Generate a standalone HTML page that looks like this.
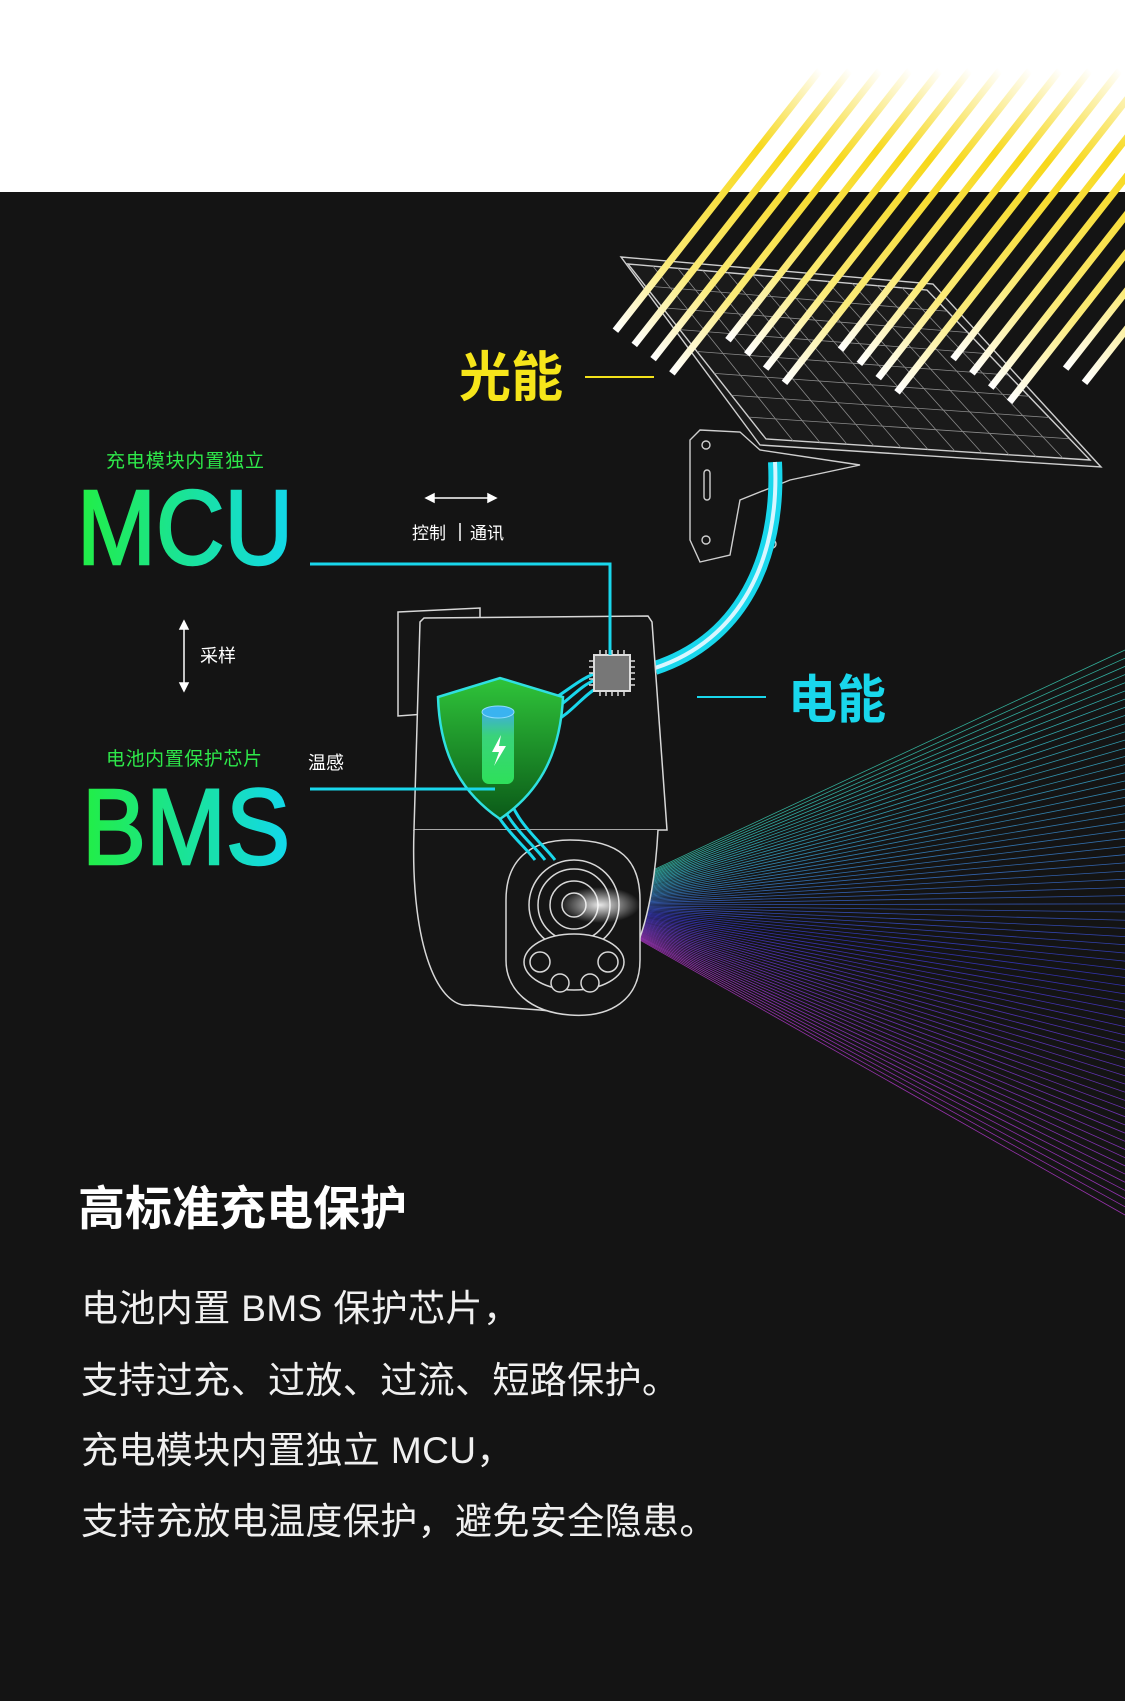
<!DOCTYPE html>
<html><head><meta charset="utf-8">
<style>
html,body{margin:0;padding:0;background:#141414;}
body{width:1125px;height:1701px;position:relative;overflow:hidden;font-family:"Liberation Sans","Noto Sans CJK SC",sans-serif;}
.top{position:absolute;left:0;top:0;width:1125px;height:192px;background:#fff;}
svg{position:absolute;left:0;top:0;}
.t{position:absolute;color:#f0f0f0;font-family:"Liberation Sans","Noto Sans CJK SC",sans-serif;white-space:nowrap;}
.p{font-size:37px;line-height:37px;letter-spacing:0.4px;}
</style></head><body>
<div class="top"></div>
<svg id="s" width="1125" height="1701" viewBox="0 0 1125 1701" xmlns="http://www.w3.org/2000/svg">
<defs>
<linearGradient id="gc" x1="0" y1="0" x2="1" y2="0"><stop offset="0" stop-color="#22ee44"/><stop offset="1" stop-color="#12d8ec"/></linearGradient>
<linearGradient id="ray" x1="1" y1="0" x2="0" y2="1"><stop offset="0" stop-color="#f5d400" stop-opacity="0"/><stop offset="0.3" stop-color="#f7d81a"/><stop offset="0.75" stop-color="#fbeb7a"/><stop offset="1" stop-color="#ffffff"/></linearGradient>
<radialGradient id="glow" cx="0.5" cy="0.5" r="0.5"><stop offset="0" stop-color="#fff" stop-opacity="0.9"/><stop offset="1" stop-color="#fff" stop-opacity="0"/></radialGradient>
<linearGradient id="sh" x1="0" y1="0" x2="0" y2="1"><stop offset="0" stop-color="#2fc43a"/><stop offset="1" stop-color="#0b5a18"/></linearGradient>
<linearGradient id="bat" x1="0" y1="0" x2="0" y2="1"><stop offset="0" stop-color="#3fa8e8"/><stop offset="0.35" stop-color="#3ad37a"/><stop offset="1" stop-color="#2ee05a"/></linearGradient>
</defs>
<g id="fan"></g>
<g stroke="#cfcfcf" fill="none" stroke-width="1.4">
<polygon points="621,257 933,284 1101,467 760,445" fill="#1a1a1a"/>
<polygon points="628,264 927,290 1090,460 766,439"/>
<g id="grid" stroke="#8a8a8a" stroke-width="0.8"></g>
<path d="M700,430 L740,432 L760,450 L860,465 L790,480 L740,500 L730,555 L700,562 L690,540 L690,440 Z" fill="#151515"/>
<circle cx="706" cy="445" r="4"/><circle cx="706" cy="540" r="4"/><circle cx="772" cy="544" r="4"/>
<rect x="704" y="470" width="6" height="30" rx="3"/>
</g>
<path d="M775,462 C780,560 740,640 655,668" stroke="#19d7ec" stroke-width="14" fill="none"/>
<path d="M775,462 C780,560 740,640 655,668" stroke="#d8f6ff" stroke-width="4" fill="none"/>
<g id="rays"></g>
<g stroke="#d8d8d8" stroke-width="1.5" fill="#151515">
<path d="M398,612 L480,608 L480,710 L398,716 Z"/>
<path d="M424,618 L648,616 L652,622 L667,830 L414,830 L420,622 Z"/>
<path d="M414,830 C410,950 440,1010 470,1005 L540,1010 C600,1018 650,980 658,830"/>
<path d="M506,900 C506,860 530,840 570,840 C620,840 640,860 640,900 L640,960 C640,1000 610,1018 570,1015 C530,1012 506,990 506,960 Z"/>
<circle cx="574" cy="905" r="45"/><circle cx="574" cy="905" r="36"/><circle cx="574" cy="905" r="24"/><circle cx="574" cy="905" r="12"/>
<ellipse cx="574" cy="962" rx="50" ry="28"/>
<circle cx="540" cy="962" r="10"/><circle cx="608" cy="962" r="10"/><circle cx="560" cy="983" r="9"/><circle cx="590" cy="983" r="9"/>
</g>
<ellipse cx="600" cy="905" rx="40" ry="18" fill="url(#glow)"/>
<g stroke="#19d7ec" stroke-width="3" fill="none">
<path d="M595,680 C570,690 560,720 500,730"/><path d="M597,688 C575,700 565,730 500,742"/><path d="M600,672 C570,680 555,710 500,720"/>
<path d="M495,780 C500,820 530,840 545,860"/><path d="M505,780 C510,820 540,840 555,860"/><path d="M485,780 C490,820 520,840 535,860"/>
</g>
<path d="M438,697 L500,678 L563,697 C560,760 535,795 500,819 C465,795 440,760 438,697 Z" fill="url(#sh)" stroke="#2fe0e0" stroke-width="2.5"/>
<rect x="482" y="710" width="32" height="74" rx="7" fill="url(#bat)"/>
<ellipse cx="498" cy="712" rx="16" ry="6" fill="#3ab3f0" stroke="#8fdcff"/>
<path d="M501,735 L492,752 L499,752 L494,766 L506,746 L499,746 Z" fill="#fff"/>
<rect x="594" y="655" width="36" height="36" fill="#777" stroke="#ddd" stroke-width="2"/>
<g stroke="#ddd" stroke-width="1.5" id="pins"></g>
<path d="M310,564 L610,564 L610,655" stroke="#19d7ec" stroke-width="3" fill="none"/>
<path d="M310,789 L495,789" stroke="#19d7ec" stroke-width="3" fill="none"/>
<line x1="585" y1="377" x2="654" y2="377" stroke="#f3e21a" stroke-width="2"/>
<line x1="697" y1="697" x2="766" y2="697" stroke="#19d7ec" stroke-width="2"/>
<g stroke="#fff" stroke-width="1.5" fill="#fff">
<line x1="432" y1="498" x2="490" y2="498"/><polygon points="426,498 434,494 434,502"/><polygon points="496,498 488,494 488,502"/>
<line x1="184" y1="627" x2="184" y2="685"/><polygon points="184,621 180,629 188,629"/><polygon points="184,691 180,683 188,683"/>
<line x1="460" y1="523" x2="460" y2="541"/>
</g>
<text x="459" y="396" font-family="Liberation Sans,Noto Sans CJK SC,sans-serif" font-weight="bold" font-size="54" fill="#f6e51a" textLength="104" lengthAdjust="spacingAndGlyphs">光能</text>
<text x="788" y="718" font-family="Liberation Sans,Noto Sans CJK SC,sans-serif" font-weight="bold" font-size="52" fill="#19d7ec" textLength="98" lengthAdjust="spacingAndGlyphs">电能</text>
<text x="77" y="564" font-family="Liberation Sans,sans-serif" font-size="106" fill="url(#gc)" stroke="url(#gc)" stroke-width="2.5" textLength="216" lengthAdjust="spacingAndGlyphs">MCU</text>
<text x="82" y="864" font-family="Liberation Sans,sans-serif" font-size="108" fill="url(#gc)" stroke="url(#gc)" stroke-width="2.5" textLength="208" lengthAdjust="spacingAndGlyphs">BMS</text>
<g font-family="Liberation Sans,Noto Sans CJK SC,sans-serif">
<text x="106" y="467" font-size="19" fill="#2ee84a" textLength="158">充电模块内置独立</text>
<text x="106" y="765" font-size="19" fill="#2ee84a" textLength="156">电池内置保护芯片</text>
<text x="412" y="539" font-size="17" fill="#fff">控制</text>
<text x="470" y="539" font-size="17" fill="#fff">通讯</text>
<text x="200" y="662" font-size="18" fill="#fff">采样</text>
<text x="308" y="769" font-size="18" fill="#fff">温感</text>
</g>
</svg>
<div class="t" style="left:78px;top:1170px;font-size:47px;font-weight:bold;color:#fff;">高标准充电保护</div>
<div class="t p" style="left:81px;top:1290px;">电池内置 BMS 保护芯片，</div>
<div class="t p" style="left:81px;top:1362px;">支持过充、过放、过流、短路保护。</div>
<div class="t p" style="left:81px;top:1432px;">充电模块内置独立 MCU，</div>
<div class="t p" style="left:81px;top:1503px;">支持充放电温度保护，避免安全隐患。</div>
<script>
var NS="http://www.w3.org/2000/svg";
function el(p,n,a){var e=document.createElementNS(NS,n);for(var k in a)e.setAttribute(k,a[k]);p.appendChild(e);return e;}
var fan=document.getElementById("fan");
var N=70;
for(var i=0;i<N;i++){var t=i/(N-1);var y=650+t*565;
 var h=t<0.5?170+(t/0.5)*60:230+((t-0.5)/0.5)*60;
 el(fan,"line",{x1:578,y1:905,x2:1125,y2:y,stroke:"hsl("+h+",70%,55%)","stroke-width":0.8,"stroke-opacity":0.75});}
var g=document.getElementById("grid");
function lerp(a,b,t){return [a[0]+(b[0]-a[0])*t,a[1]+(b[1]-a[1])*t];}
var A=[628,264],B=[927,290],C=[1090,460],D=[766,439];
for(var i=1;i<12;i++){var t=i/12;var p=lerp(A,B,t),q=lerp(D,C,t);el(g,"line",{x1:p[0],y1:p[1],x2:q[0],y2:q[1]});}
for(var i=1;i<8;i++){var t=i/8;var p=lerp(A,D,t),q=lerp(B,C,t);el(g,"line",{x1:p[0],y1:p[1],x2:q[0],y2:q[1]});}
var r=document.getElementById("rays");
for(var i=0;i<18;i++){var sx=820+i*30, sy=70; var L=330+(i%4)*15+i*3;
 var ex=sx-0.62*L, ey=sy+0.79*L;
 el(r,"line",{x1:sx,y1:sy,x2:ex,y2:ey,stroke:"url(#ray)","stroke-width":7});}
var pins=document.getElementById("pins");
for(var i=0;i<5;i++){var o=600+i*6;el(pins,"line",{x1:o,y1:650,x2:o,y2:655});el(pins,"line",{x1:o,y1:691,x2:o,y2:696});
 var v=661+i*6;el(pins,"line",{x1:589,y1:v,x2:594,y2:v});el(pins,"line",{x1:630,y1:v,x2:635,y2:v});}
</script>
</body></html>
